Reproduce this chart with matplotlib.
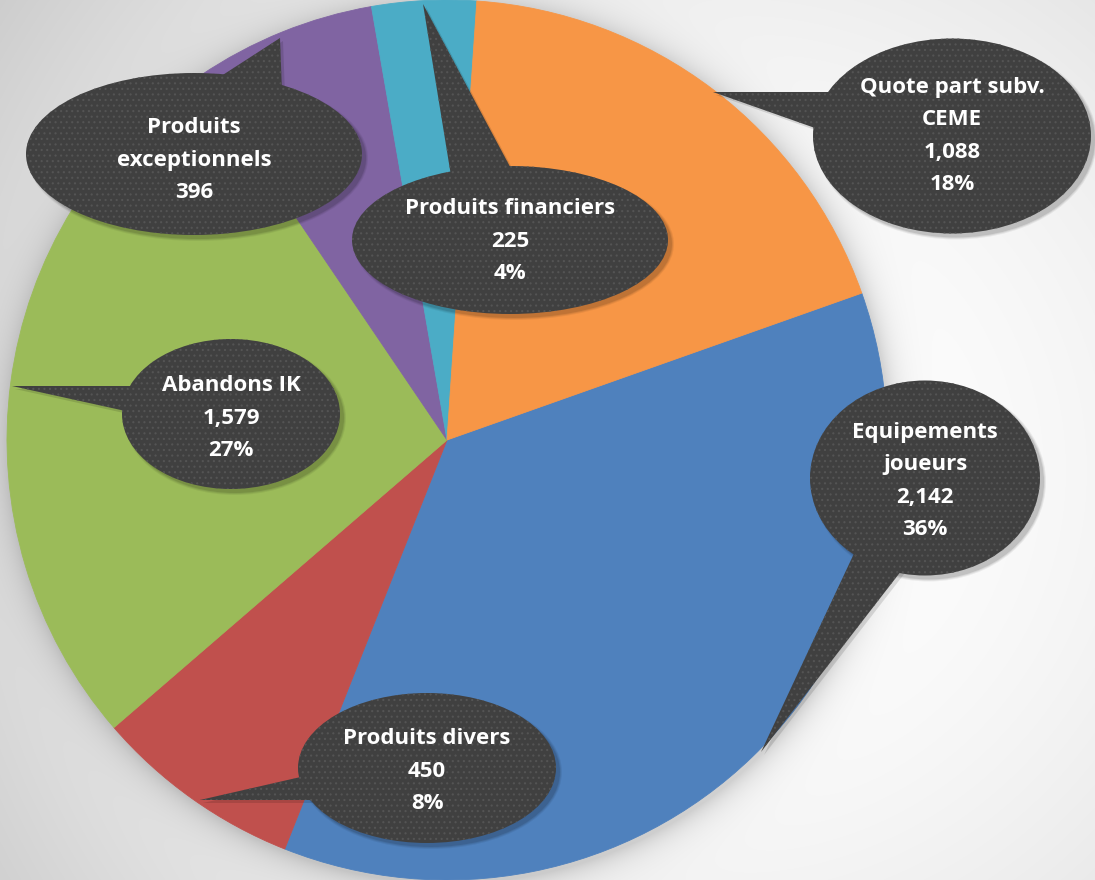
import numpy as np
import matplotlib
matplotlib.use("Agg")
import matplotlib.pyplot as plt
from matplotlib.patches import Ellipse, Polygon

# ---------------- data ----------------
categories = ["Equipements joueurs", "Produits divers", "Abandons IK",
              "Produits exceptionnels", "Produits financiers", "Quote part subv. CEME"]
label_lines = [["Equipements", "joueurs"], ["Produits divers"], ["Abandons IK"],
               ["Produits", "exceptionnels"], ["Produits financiers"], ["Quote part subv.", "CEME"]]
values = [2142, 450, 1579, 396, 225, 1088]
pct_labels = ["36%", "8%", "27%", "", "4%", "18%"]
colors = ["#4F81BD", "#C0504D", "#9BBB59", "#8064A2", "#4BACC6", "#F79646"]

# ---------------- layout (pixel coords, y downwards) ----------------
W, H = 1095, 880
PIE_C = (447, 440)
PIE_R = 440
# ellipse center, width, height, pointer tip, pointer base points, text offset
callouts = [
    dict(c=(925, 478), w=230, h=195, tip=(761, 752), b1=(858, 545), b2=(905, 566), dy=3),
    dict(c=(427, 768), w=258, h=150, tip=(200, 800), b1=(305, 776), b2=(320, 800), dy=3),
    dict(c=(231, 414), w=218, h=150, tip=(12, 386), b1=(140, 386), b2=(130, 412), dy=4),
    dict(c=(194, 154), w=336, h=162, tip=(280, 38), b1=(215, 80), b2=(282, 92), dy=6),
    dict(c=(510, 240), w=316, h=148, tip=(423, 4), b1=(452, 182), b2=(515, 176), dy=1),
    dict(c=(952, 136), w=278, h=195, tip=(713, 92), b1=(830, 92), b2=(815, 128), dy=0),
]
LINE_STEP = 32.5


def P(pt):
    return (pt[0], H - pt[1])


plt.rcParams["hatch.linewidth"] = 0.8
fig = plt.figure(figsize=(W / 100, H / 100), dpi=100)
ax = fig.add_axes([0, 0, 1, 1])

# ---------------- background with radial gradient and pie glow ----------------
yy, xx = np.mgrid[0:H, 0:W]
d = np.hypot(xx - 720, yy - 470)
base = 1.0 - 0.19 * (d / 850.0) ** 2
r = np.hypot(xx - (PIE_C[0] + 2), yy - (PIE_C[1] + 3))
sh = np.where(r > PIE_R, 0.16 * np.exp(-(r - PIE_R) / 14.0), 0.16)
img = np.clip(base * (1 - sh), 0, 1)
rgb = np.dstack([img, img, img])
ax.imshow(rgb, extent=(0, W, 0, H), origin="upper", zorder=0, interpolation="bilinear")

# ---------------- pie ----------------
wedges, _ = ax.pie(values, colors=colors, startangle=19.5, counterclock=False,
                   center=P(PIE_C), radius=PIE_R,
                   wedgeprops=dict(linewidth=0.6))
for w_, col in zip(wedges, colors):
    w_.set_edgecolor(col)
    w_.set_zorder(2)

# ---------------- callouts ----------------
fill = "#404040"
dots = "#545454"
for cfg in callouts:
    cx, cy = cfg["c"]
    for k, a in enumerate([0.10, 0.08, 0.06]):
        ax.add_patch(Ellipse(P((cx + 4, cy + 4)), cfg["w"] + 2 * k, cfg["h"] + 2 * k,
                             facecolor="black", alpha=a, linewidth=0, zorder=3))
    ax.add_patch(Polygon([P((cfg["tip"][0] + 3, cfg["tip"][1] + 3)), P((cfg["b1"][0] + 3, cfg["b1"][1] + 3)),
                          P((cfg["b2"][0] + 3, cfg["b2"][1] + 3))],
                         closed=True, facecolor="black", alpha=0.12, linewidth=0, zorder=3))

for cfg in callouts:
    ax.add_patch(Polygon([P(cfg["tip"]), P(cfg["b1"]), P(cfg["b2"])], closed=True,
                         facecolor=fill, edgecolor=dots, linewidth=0, hatch="...", zorder=4))
    ax.add_patch(Ellipse(P(cfg["c"]), cfg["w"], cfg["h"], facecolor=fill,
                         edgecolor=dots, linewidth=0, hatch="...", zorder=5))

for i, cfg in enumerate(callouts):
    lines = list(label_lines[i]) + [f"{values[i]:,}"]
    if pct_labels[i]:
        lines.append(pct_labels[i])
    n = len(lines)
    cx, cy = cfg["c"]
    cy = cy + cfg["dy"]
    for j, t in enumerate(lines):
        y = cy + (j - (n - 1) / 2) * LINE_STEP
        ax.text(cx, H - y, t, color="white", fontsize=16, fontweight="bold",
                family=["Open Sans", "DejaVu Sans"], ha="center", va="center", zorder=6)

ax.set_xlim(0, W)
ax.set_ylim(0, H)
ax.set_aspect("equal")
ax.axis("off")
fig.savefig("out.png", dpi=100)
